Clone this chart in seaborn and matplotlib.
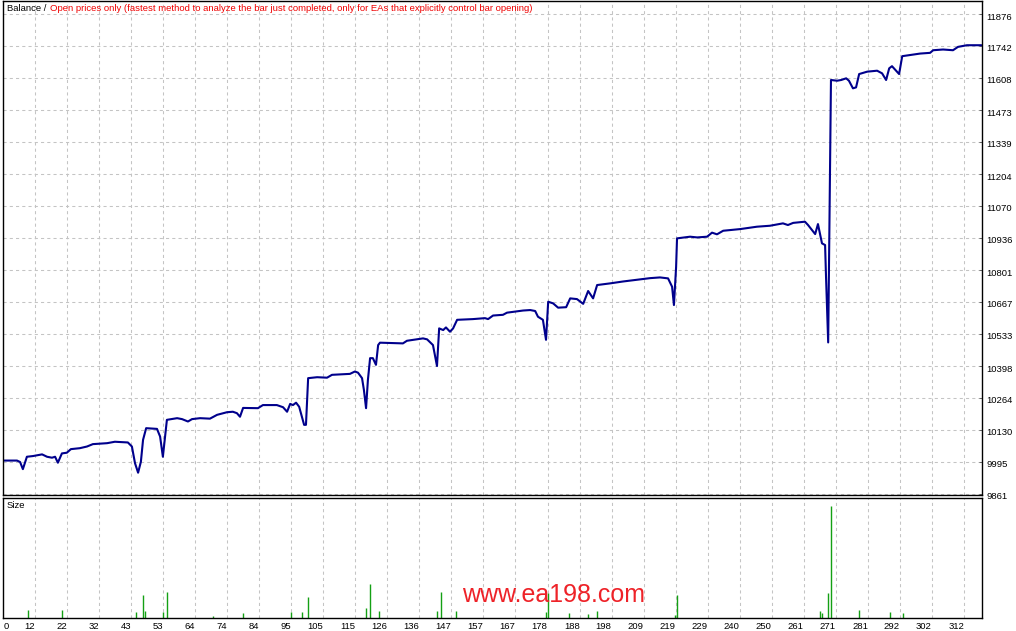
import matplotlib
matplotlib.use('Agg')
import matplotlib.pyplot as plt
import matplotlib.transforms as mtransforms
import numpy as np
import pandas as pd
import seaborn as sns

# balance curve (trade number -> account balance)
trade_no = [1.8, 6.2, 7.2, 8.1, 9.4, 11.4, 14.3, 15.9, 17.5, 18.5, 19.4, 20.7, 22.3, 23.6,
            26.5, 28.8, 30.7, 35.3, 37.8, 42.0, 43.3, 44.3, 45.3, 46.2, 46.9, 47.9, 51.4,
            52.4, 53.3, 54.0, 54.6, 57.9, 59.5, 61.4, 62.7, 65.3, 68.5, 70.8, 74.0, 75.9,
            77.2, 78.2, 79.2, 84.0, 85.6, 90.1, 92.1, 93.4, 94.4, 95.3, 96.3, 97.3, 98.2,
            98.9, 99.5, 100.2, 103.1, 106.3, 107.9, 113.7, 115.3, 116.3, 117.6, 118.2,
            118.9, 119.5, 120.2, 121.1, 122.1, 122.8, 123.4, 130.8, 132.1, 137.3, 138.6,
            140.5, 141.8, 142.5, 143.8, 144.7, 146.0, 147.0, 148.3, 153.4, 157.3, 158.3,
            159.9, 163.1, 164.4, 169.6, 171.9, 173.5, 174.4, 176.0, 177.0, 177.7, 179.3,
            180.9, 183.5, 184.8, 187.0, 189.0, 190.6, 192.2, 193.5, 197.7, 201.9, 207.4,
            210.6, 213.8, 216.4, 217.7, 218.3, 219.0, 219.3, 223.5, 225.8, 229.0, 230.6,
            232.2, 234.2, 239.7, 245.1, 249.3, 253.5, 255.1, 256.8, 260.6, 261.6, 263.9,
            264.8, 266.1, 267.1, 267.4, 268.1, 268.4, 268.7, 269.0, 271.0, 272.3, 273.9,
            274.8, 276.1, 277.1, 278.1, 280.7, 283.9, 285.5, 286.8, 287.8, 288.7, 290.0,
            291.0, 292.0, 297.8, 301.0, 302.0, 305.2, 308.4, 310.0, 312.9, 317.6]
balance = [10001, 10001, 9995, 9965, 10017, 10020, 10027, 10017, 10013, 10017, 9992, 10031,
           10034, 10049, 10053, 10060, 10070, 10074, 10080, 10077, 10060, 9990, 9950, 9996,
           10088, 10137, 10134, 10102, 10017, 10102, 10172, 10179, 10175, 10165, 10175,
           10179, 10177, 10193, 10204, 10206, 10200, 10185, 10222, 10221, 10234, 10234,
           10225, 10206, 10239, 10234, 10244, 10227, 10185, 10151, 10151, 10347, 10351,
           10349, 10361, 10365, 10375, 10370, 10347, 10298, 10221, 10340, 10431, 10431,
           10403, 10486, 10496, 10493, 10504, 10514, 10510, 10486, 10398, 10556, 10549,
           10560, 10542, 10556, 10592, 10595, 10599, 10595, 10610, 10613, 10622, 10631,
           10633, 10629, 10605, 10592, 10508, 10668, 10661, 10643, 10645, 10682, 10679,
           10659, 10713, 10682, 10738, 10745, 10753, 10762, 10767, 10770, 10766, 10731,
           10654, 10814, 10934, 10941, 10938, 10941, 10958, 10951, 10966, 10973, 10983,
           10987, 10997, 10990, 10999, 11004, 10990, 10952, 10994, 10913, 10906, 10774,
           10497, 10857, 11234, 11599, 11596, 11599, 11606, 11596, 11564, 11568, 11624,
           11634, 11638, 11627, 11599, 11648, 11657, 11638, 11624, 11699, 11710, 11713,
           11724, 11727, 11724, 11738, 11745, 11745]

# lot size panel (trade number -> relative size)
size_trade = [9.8, 20.8, 44.7, 46.8, 47.6, 53.4, 54.7, 69.6, 79.3, 94.6, 98.3, 100.3, 119.0,
              120.2, 123.2, 141.9, 143.0, 148.0, 176.9, 177.8, 184.5, 190.7, 193.6, 218.7,
              219.4, 265.3, 266.2, 268.2, 269.0, 278.2, 288.0, 292.1]
size_lots = [0.8, 0.8, 0.6, 2.3, 0.7, 0.6, 2.6, 0.2, 0.5, 0.6, 0.6, 2.1, 1.0, 3.4, 0.7, 0.7,
             2.6, 0.7, 0.6, 2.5, 0.5, 0.4, 0.7, 0.3, 2.3, 0.7, 0.5, 2.5, 11.2, 0.8, 0.6, 0.5]

y_ticks = [9861, 9995, 10130, 10264, 10398, 10533, 10667, 10801, 10936, 11070, 11204,
           11339, 11473, 11608, 11742, 11876]
x_labels = ['0', '12', '22', '32', '43', '53', '64', '74', '84', '95', '105', '115', '126',
            '136', '147', '157', '167', '178', '188', '198', '209', '219', '229', '240',
            '250', '261', '271', '281', '292', '302', '312']

title_left = 'Balance /'
title_right = ('Open prices only (fastest method to analyze the bar just completed, '
               'only for EAs that explicitly control bar opening)')

df = pd.DataFrame({'trade': trade_no, 'balance': balance})

sns.set_theme(style='white')
plt.rcParams['font.family'] = ['Liberation Sans', 'DejaVu Sans']
fs = 6.8

W, H = 1016, 631
fig = plt.figure(figsize=(W / 100, H / 100), dpi=100)
fig.patch.set_facecolor('white')
ax = fig.add_axes([3.3 / W, 136 / H, 978.2 / W, 494 / H])
ax2 = fig.add_axes([3.3 / W, 13.5 / H, 978.2 / W, 120 / H], sharex=ax)

sns.lineplot(data=df, x='trade', y='balance', ax=ax, color='#00008c', lw=1.5,
             estimator=None, sort=False, legend=False)
ax2.vlines(size_trade, 0, size_lots, color='#14a014', lw=1.0)

# x grid: evenly spaced like the terminal, first label sits at the left border
grid_x = 12.0 + np.arange(len(x_labels) - 1) * 10.343
x_pos = np.concatenate([[3.45], grid_x])
for a in (ax, ax2):
    a.set_xlim(1.78, 317.6)
    a.set_xticks(x_pos)
    a.grid(True, axis='x', color='#c4c4c4', lw=0.75, ls=(0, (3, 3)))
    a.set_axisbelow(True)
    a.set_xlabel('')
    a.set_ylabel('')
    a.set_facecolor('white')
    for s in a.spines.values():
        s.set_visible(True)
        s.set_color('black')
        s.set_linewidth(1.0)
    a.xaxis.get_gridlines()[0].set_visible(False)

ax.set_ylim(9856.4, 11930.7)
ax.set_yticks(y_ticks)
ax.grid(True, axis='y', color='#c4c4c4', lw=0.75, ls=(0, (3, 3)))
ax.yaxis.tick_right()
ax.tick_params(axis='y', direction='in', length=2.5, width=0.7, color='#666666',
               pad=3.3, labelsize=fs, labelcolor='black', right=True, left=False)
ax.tick_params(axis='x', bottom=False, labelbottom=False)
shift = mtransforms.ScaledTranslation(0, -2 / 100, fig.dpi_scale_trans)
for lab in ax.get_yticklabels():
    lab.set_transform(lab.get_transform() + shift)

ax2.set_ylim(0, 12.0)
ax2.set_yticks([])
ax2.set_xticklabels(x_labels, ha='right')
ax2.tick_params(axis='x', length=0, pad=3.0, labelsize=fs, labelcolor='black')

t1 = fig.text(7 / W, 1 - 11 / H, title_left, color='black', fontsize=fs, va='baseline')
ax.annotate(title_right, xy=(1, 0), xycoords=t1, xytext=(2.6, 0), textcoords='offset points',
            ha='left', va='bottom', color='#f00000', fontsize=fs)
fig.text(7 / W, 1 - 508 / H, 'Size', color='black', fontsize=fs, va='baseline')

fig.text(553.5 / W, 1 - 601.5 / H, 'www.ea198.com', color='#ee2228', fontsize=18,
         ha='center', va='baseline')

fig.savefig('out.png', dpi=100)
